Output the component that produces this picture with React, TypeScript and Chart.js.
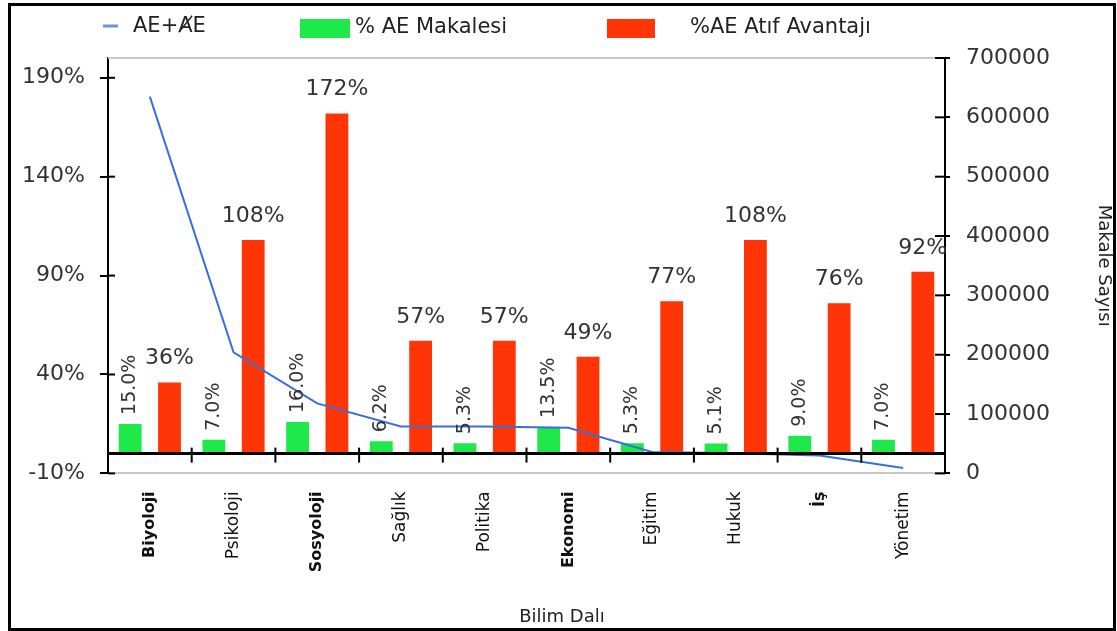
import React, { useEffect, useRef } from 'react';
import { Chart, registerables } from 'chart.js';

Chart.register(...registerables);

// Disciplines on the x axis
const categories = ['Biyoloji', 'Psikoloji', 'Sosyoloji', 'Sağlık', 'Politika', 'Ekonomi', 'Eğitim', 'Hukuk', 'İş', 'Yönetim'];
const boldCategories = ['Biyoloji', 'Sosyoloji', 'Ekonomi', 'İş'];

// Share of open-access articles (%)
const articleShare = [15.0, 7.0, 16.0, 6.2, 5.3, 13.5, 5.3, 5.1, 9.0, 7.0];
// Citation advantage of open-access articles (%)
const citationAdvantage = [36, 108, 172, 57, 57, 49, 77, 108, 76, 92];
// Total number of articles (right axis)
const articleCount = [635000, 204000, 118000, 79000, 79000, 77000, 36000, 34000, 30000, 9000];

const seriesNames = ['AE+ȺE', '% AE Makalesi', '%AE Atıf Avantajı'];

const percentTicks = [-10, 40, 90, 140, 190];
const countTicks = [0, 100000, 200000, 300000, 400000, 500000, 600000, 700000];

const FONT = '"DejaVu Sans", sans-serif';
const GREEN = '#1fe84b';
const RED = '#ff3508';
const BLUE = '#3a6ed8';

// Legend row across the top of the canvas
const topLegend = {
  id: 'topLegend',
  afterDraw(chart: any) {
    const { ctx } = chart;
    const ds = chart.data.datasets;
    ctx.save();
    ctx.font = `21px ${FONT}`;
    ctx.textBaseline = 'middle';
    ctx.textAlign = 'left';

    ctx.strokeStyle = '#6e93d6';
    ctx.lineWidth = 3;
    ctx.beginPath();
    ctx.moveTo(92, 20);
    ctx.lineTo(107, 20);
    ctx.stroke();
    ctx.fillStyle = '#222';
    ctx.fillText(ds[0].label, 122, 21);

    ctx.fillStyle = ds[1].backgroundColor;
    ctx.fillRect(289, 13, 50, 19);
    ctx.fillStyle = '#222';
    ctx.fillText(ds[1].label, 344, 22);

    ctx.fillStyle = ds[2].backgroundColor;
    ctx.fillRect(596, 13, 48, 19);
    ctx.fillStyle = '#222';
    ctx.fillText(ds[2].label, 679, 22);
    ctx.restore();
  },
};

// Plot frame details: top rule, crossing tick marks, zero baseline, value labels
const chartDecor = {
  id: 'chartDecor',
  afterDatasetsDraw(chart: any) {
    const { ctx, chartArea } = chart;
    const x = chart.scales.x;
    const y = chart.scales.y;
    const y1 = chart.scales.y1;
    ctx.save();

    // light rule along the top of the plot
    ctx.strokeStyle = '#c8c8c8';
    ctx.lineWidth = 2;
    ctx.beginPath();
    ctx.moveTo(chartArea.left, chartArea.top);
    ctx.lineTo(chartArea.right, chartArea.top);
    ctx.stroke();

    // inner halves of the axis tick marks
    ctx.strokeStyle = '#000';
    ctx.lineWidth = 2;
    percentTicks.forEach((v) => {
      const py = y.getPixelForValue(v);
      ctx.beginPath();
      ctx.moveTo(chartArea.left, py);
      ctx.lineTo(chartArea.left + 7, py);
      ctx.stroke();
    });
    countTicks.forEach((v) => {
      const py = y1.getPixelForValue(v);
      ctx.beginPath();
      ctx.moveTo(chartArea.right - 10, py);
      ctx.lineTo(chartArea.right, py);
      ctx.stroke();
    });

    // zero baseline with category separators
    const zy = y.getPixelForValue(0);
    ctx.lineWidth = 3;
    ctx.beginPath();
    ctx.moveTo(chartArea.left, zy);
    ctx.lineTo(chartArea.right, zy);
    ctx.stroke();
    ctx.lineWidth = 2;
    for (let i = 0; i < categories.length - 1; i++) {
      const bx = (x.getPixelForValue(i) + x.getPixelForValue(i + 1)) / 2;
      ctx.beginPath();
      ctx.moveTo(bx, zy - 6);
      ctx.lineTo(bx, zy + 9);
      ctx.stroke();
    }

    // value labels
    const greenMeta = chart.getDatasetMeta(1);
    ctx.fillStyle = '#333';
    ctx.font = `19px ${FONT}`;
    ctx.textAlign = 'left';
    ctx.textBaseline = 'middle';
    greenMeta.data.forEach((bar: any, i: number) => {
      ctx.save();
      ctx.translate(bar.x, bar.y - 9);
      ctx.rotate(-Math.PI / 2);
      ctx.fillText(articleShare[i].toFixed(1) + '%', 0, 0);
      ctx.restore();
    });

    const redMeta = chart.getDatasetMeta(2);
    ctx.font = `22px ${FONT}`;
    ctx.textAlign = 'center';
    ctx.textBaseline = 'alphabetic';
    redMeta.data.forEach((bar: any, i: number) => {
      ctx.fillText(citationAdvantage[i] + '%', bar.x, bar.y - 18);
    });

    ctx.restore();
  },
};

export default function App() {
  const canvasRef = useRef<HTMLCanvasElement | null>(null);

  useEffect(() => {
    if (!canvasRef.current) return;
    const chart = new Chart(canvasRef.current, {
      type: 'bar',
      data: {
        labels: categories,
        datasets: [
          {
            type: 'line',
            label: seriesNames[0],
            data: articleCount,
            yAxisID: 'y1',
            borderColor: BLUE,
            backgroundColor: BLUE,
            borderWidth: 2,
            pointRadius: 0,
            fill: false,
            tension: 0,
          } as any,
          {
            label: seriesNames[1],
            data: articleShare,
            yAxisID: 'y',
            backgroundColor: GREEN,
            categoryPercentage: 0.94,
            barPercentage: 0.58,
          },
          {
            label: seriesNames[2],
            data: citationAdvantage,
            yAxisID: 'y',
            backgroundColor: RED,
            categoryPercentage: 0.94,
            barPercentage: 0.58,
          },
        ],
      },
      options: {
        responsive: false,
        animation: false,
        events: [],
        layout: { padding: { top: 52, left: 0, right: 0, bottom: 0 } },
        plugins: {
          legend: { display: false },
          tooltip: { enabled: false },
          title: {
            display: true,
            text: 'Bilim Dalı',
            position: 'bottom',
            color: '#222',
            font: { family: FONT, size: 18, weight: 'normal', lineHeight: 1.2 },
            padding: 0,
          },
        },
        scales: {
          x: {
            grid: { display: false },
            border: { display: true, color: '#c8c8c8', width: 2 },
            ticks: {
              autoSkip: false,
              minRotation: 90,
              maxRotation: 90,
              padding: 10,
              color: '#111',
              font: (ctx: any) => {
                const bold = boldCategories.includes(categories[ctx.index]);
                return { family: FONT, size: bold ? 16 : 17, weight: bold ? 'bold' : 'normal' };
              },
            },
            afterFit(scale: any) {
              scale.height = 133;
            },
          },
          y: {
            position: 'left',
            min: -10,
            max: 200,
            grid: { display: true, drawOnChartArea: false, drawTicks: true, tickLength: 8, color: '#000', lineWidth: 2 },
            border: { display: true, color: '#000', width: 2 },
            ticks: {
              padding: 15,
              color: '#333',
              font: { family: FONT, size: 22 },
              callback: (v: any) => v + '%',
            },
            afterBuildTicks(scale: any) {
              scale.ticks = percentTicks.map((value) => ({ value }));
            },
            afterFit(scale: any) {
              scale.width = 97;
            },
          },
          y1: {
            position: 'right',
            min: 0,
            max: 700000,
            grid: { display: true, drawOnChartArea: false, drawTicks: true, tickLength: 5, color: '#000', lineWidth: 2 },
            border: { display: true, color: '#000', width: 2 },
            ticks: {
              padding: 16,
              color: '#333',
              font: { family: FONT, size: 22 },
              callback: (v: any) => String(v),
            },
            afterBuildTicks(scale: any) {
              scale.ticks = countTicks.map((value) => ({ value }));
            },
            title: {
              display: true,
              text: 'Makale Sayısı',
              color: '#222',
              font: { family: FONT, size: 18, lineHeight: 1 },
              padding: 0,
            },
            afterFit(scale: any) {
              scale.width = 168;
            },
          },
        },
      } as any,
      plugins: [chartDecor, topLegend],
    });
    return () => chart.destroy();
  }, []);

  return (
    <div
      style={{
        position: 'fixed',
        left: 8,
        top: 3,
        width: 1108,
        height: 628,
        border: '3px solid #000',
        boxSizing: 'border-box',
        background: '#fff',
      }}
    >
      <canvas ref={canvasRef} width={1102} height={622} style={{ display: 'block' }} />
    </div>
  );
}
